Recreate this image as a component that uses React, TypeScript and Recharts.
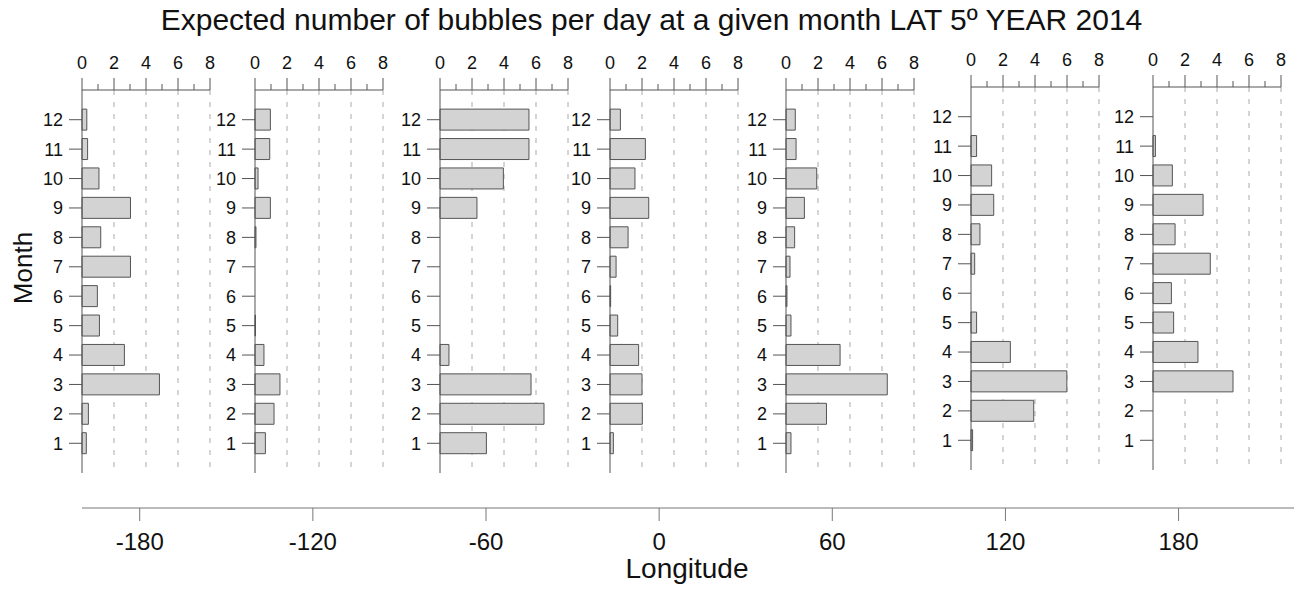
import { BarChart, Bar, XAxis, YAxis, CartesianGrid, LineChart, Line } from "recharts";

const months = [1, 2, 3, 4, 5, 6, 7, 8, 9, 10, 11, 12];
const countTicks = [0, 1, 2, 3, 4, 5, 6, 7, 8];
const gridValues = [2, 4, 6, 8];
const lonTicks = [-180, -120, -60, 0, 60, 120, 180];
const lonDomain = [-200, 220];

// longitude of each panel's zero line
const panelLon = [-200, -140, -76, -17, 44, 108, 171];

// bubbles per day, month 1..12
const panel1 = [0.27, 0.4, 4.84, 2.65, 1.09, 0.96, 3.03, 1.17, 3.03, 1.06, 0.35, 0.3];
const panel2 = [0.65, 1.19, 1.56, 0.56, 0.03, 0, 0, 0.06, 0.96, 0.19, 0.92, 0.96];
const panel3 = [2.9, 6.5, 5.69, 0.56, 0, 0, 0, 0, 2.31, 3.96, 5.56, 5.56];
const panel4 = [0.21, 2.02, 2.0, 1.79, 0.48, 0.04, 0.38, 1.13, 2.42, 1.56, 2.21, 0.65];
const panel5 = [0.31, 2.53, 6.33, 3.38, 0.31, 0.06, 0.25, 0.54, 1.15, 1.92, 0.63, 0.58];
const panel6 = [0.1, 3.92, 5.99, 2.46, 0.35, 0, 0.23, 0.56, 1.42, 1.29, 0.35, 0];
const panel7 = [0, 0, 5.0, 2.81, 1.29, 1.15, 3.58, 1.38, 3.13, 1.21, 0.15, 0];

const panels = [panel1, panel2, panel3, panel4, panel5, panel6, panel7];
const panelAxisY = [90, 90, 90, 90, 90, 87, 87];

const FONT = '"Liberation Sans", Arial, Helvetica, sans-serif';
const NARROW = '"Liberation Sans Narrow", "Arial Narrow", "Liberation Sans", Arial, sans-serif';
const W = 1303;
const H = 590;
const PLOT_LEFT = 82;
const PLOT_RIGHT = 9;
const Y_W = 44;
const PANEL_W = 128;
const PANEL_R = 8;
const PANEL_PLOT_H = 383;
const TOP_AXIS_H = 50;

const lonToX = (lon: number) =>
  PLOT_LEFT + ((lon - lonDomain[0]) * (W - PLOT_LEFT - PLOT_RIGHT)) / (lonDomain[1] - lonDomain[0]);

const TopTick = (props: any) => {
  const { x, y, payload } = props;
  const major = payload.value % 2 === 0;
  return (
    <g>
      <line x1={x} x2={x} y1={y} y2={y - (major ? 12 : 6)} stroke="#555" />
      {major && (
        <text x={x} y={y - 21} textAnchor="middle" fontSize={18} fill="#111" fontFamily={NARROW}>
          {payload.value}
        </text>
      )}
    </g>
  );
};

function Panel({ values, lon, axisY }: { values: number[]; lon: number; axisY: number }) {
  const data = months.map((m, i) => ({ month: m, v: values[i] }));
  return (
    <div style={{ position: "absolute", left: lonToX(lon) - Y_W, top: axisY - TOP_AXIS_H }}>
      <BarChart
        width={Y_W + PANEL_W + PANEL_R}
        height={TOP_AXIS_H + PANEL_PLOT_H}
        data={data}
        layout="vertical"
        margin={{ top: 0, right: PANEL_R, bottom: 0, left: 0 }}
        barCategoryGap="14%"
      >
        <CartesianGrid
          horizontal={false}
          vertical={true}
          verticalValues={gridValues}
          stroke="#aaa"
          strokeDasharray="5 7"
        />
        <XAxis
          type="number"
          orientation="top"
          domain={[0, 8]}
          ticks={countTicks}
          interval={0}
          height={TOP_AXIS_H}
          tickSize={0}
          tickMargin={0}
          tickLine={false}
          axisLine={{ stroke: "#555" }}
          tick={<TopTick />}
        />
        <YAxis
          type="category"
          dataKey="month"
          reversed
          width={Y_W}
          interval={0}
          padding={{ top: 15, bottom: 15 }}
          tickSize={13}
          tickMargin={6}
          axisLine={{ stroke: "#555" }}
          tickLine={{ stroke: "#555" }}
          tick={{ fill: "#111", fontSize: 18, fontFamily: NARROW }}
        />
        <Bar dataKey="v" fill="#d3d3d3" stroke="#555" strokeWidth={1} isAnimationActive={false} />
      </BarChart>
    </div>
  );
}

export default function App() {
  const lonData = lonTicks.map((lon) => ({ lon }));
  return (
    <div
      style={{
        position: "absolute",
        left: 0,
        top: 0,
        width: W,
        height: H,
        background: "#fff",
        fontFamily: FONT,
        color: "#111",
      }}
    >
      <div style={{ position: "absolute", left: 0, top: 0 }}>
        <LineChart width={W} height={H} data={lonData} margin={{ top: 0, right: PLOT_RIGHT, bottom: 0, left: PLOT_LEFT }}>
          <XAxis
            dataKey="lon"
            type="number"
            domain={lonDomain}
            ticks={lonTicks}
            interval={0}
            height={H - 508}
            tickSize={13}
            tickMargin={12}
            axisLine={{ stroke: "#777" }}
            tickLine={{ stroke: "#777" }}
            tick={{ fill: "#111", fontSize: 24, fontFamily: FONT }}
          />
          <YAxis hide />
          <Line dataKey="none" stroke="none" dot={false} isAnimationActive={false} />
        </LineChart>
      </div>
      {panels.map((vals, i) => (
        <Panel key={i} values={vals} lon={panelLon[i]} axisY={panelAxisY[i]} />
      ))}
      <div
        style={{
          position: "absolute",
          left: 0,
          width: 1303,
          top: 4,
          textAlign: "center",
          fontSize: 30,
          lineHeight: "32px",
          whiteSpace: "nowrap",
        }}
      >
        Expected number of bubbles per day at a given month LAT 5º YEAR 2014
      </div>
      <div
        style={{
          position: "absolute",
          left: 23 - 50,
          top: 268 - 14,
          width: 100,
          height: 28,
          lineHeight: "28px",
          textAlign: "center",
          fontSize: 26,
          fontFamily: NARROW,
          transform: "rotate(-90deg)",
        }}
      >
        Month
      </div>
      <div
        style={{
          position: "absolute",
          left: 687 - 100,
          top: 555,
          width: 200,
          textAlign: "center",
          fontSize: 28,
          lineHeight: "28px",
        }}
      >
        Longitude
      </div>
    </div>
  );
}
